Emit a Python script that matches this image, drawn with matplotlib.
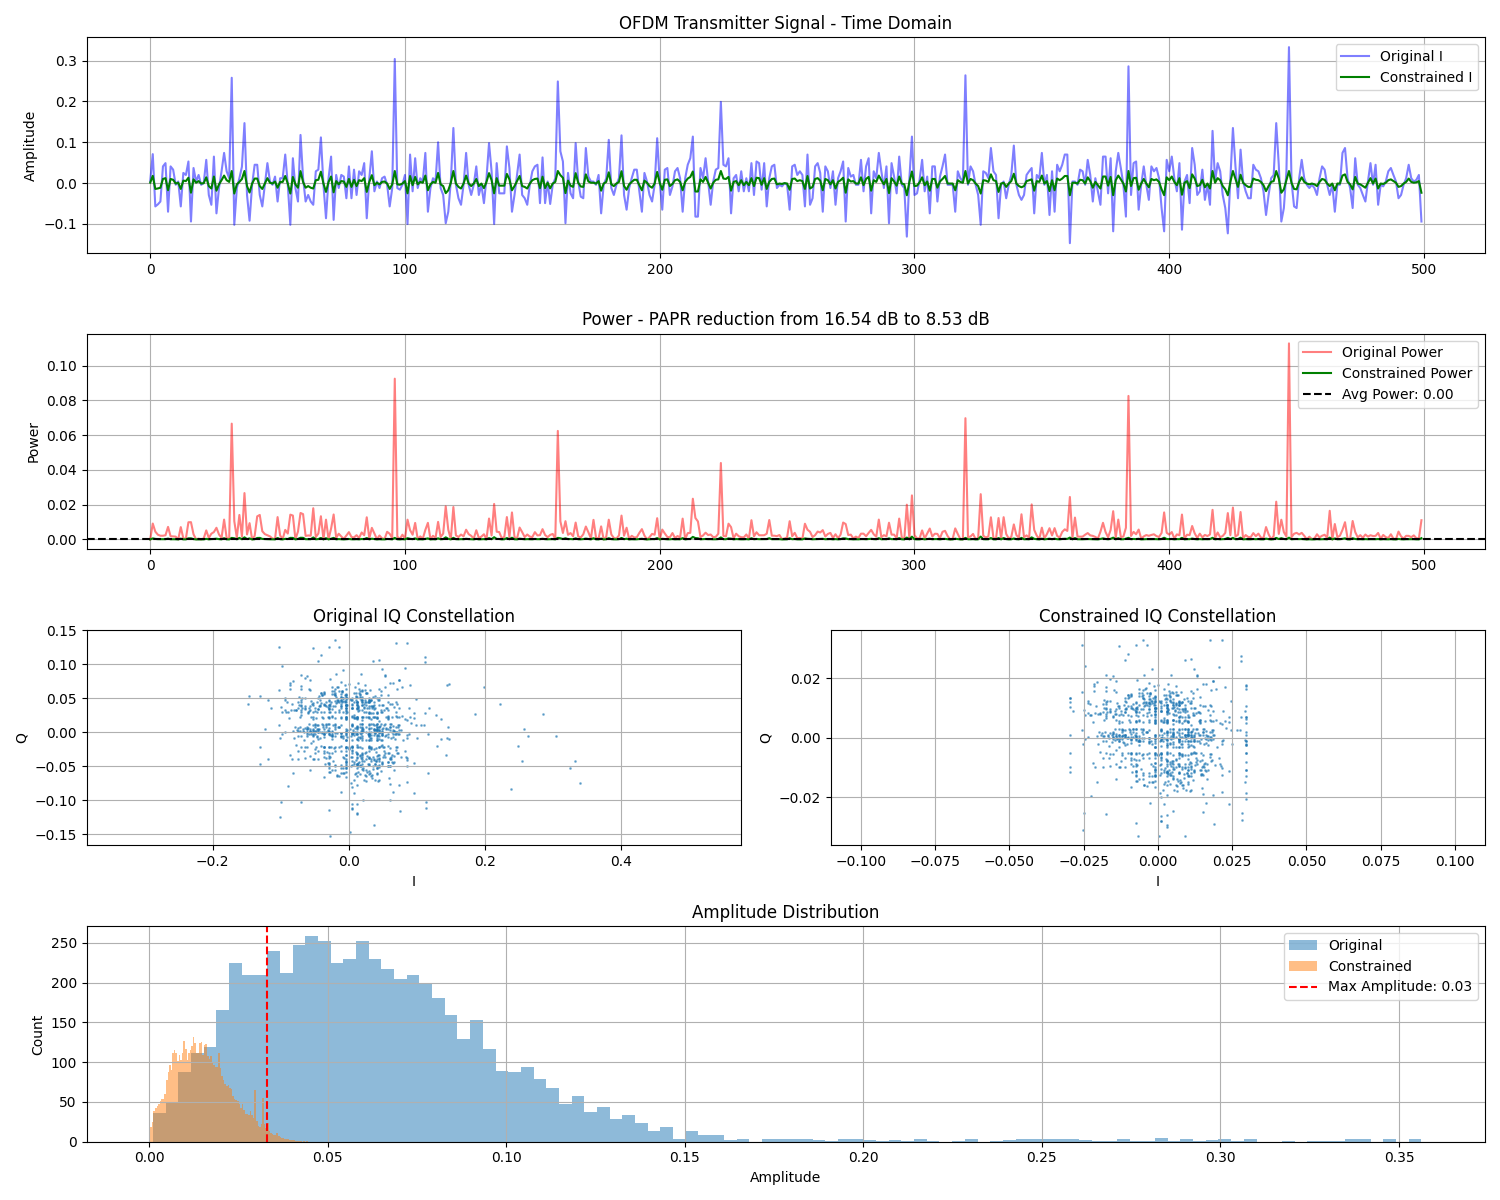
import numpy as np
import matplotlib.pyplot as plt

# IQ samples
# original samples in units of 1e-3, constrained samples in units of 1e-4
orig_i_milli = [
    5, 71, -57, -52, -45, 41, 49, -70, 41, 33, -4, 4, -57, 25, 20, 53, -94, 37, 4, 20,
    -4, 0, 57, -29, -53, 65, -74, -12, 29, 74, 29, 12, 258, -102, -12, 12, 40, 147, -29, -92,
    -4, 45, 45, -29, -57, -4, 49, 4, -4, 16, -45, 12, 12, 70, -4, -102, 61, -12, -45, 118,
    12, -45, -29, -45, -53, 29, 33, 112, -4, -86, 12, 65, -90, 20, -12, 20, 16, -37, 41, -37,
    33, -29, 29, 20, 49, -86, 12, 78, -20, 4, -12, 12, 16, -4, -57, -12, 304, -12, -16, -4,
    20, -100, 70, -20, 61, -12, 12, 4, 74, -70, -12, 12, 4, 100, -12, -29, -98, -70, 4, 135,
    -4, -37, -53, -4, 74, -4, -29, -4, 41, -29, -4, -49, 12, 98, 29, -100, 49, -25, -25, -25,
    90, 37, -70, -29, 20, 70, -29, -37, -53, -4, 29, 41, 45, -49, 63, -49, 4, -51, -4, 12,
    249, 78, 53, -98, 25, -25, -37, 98, 4, -33, -37, 86, 16, 4, 4, -4, 20, -74, -4, 12,
    106, -12, -29, -4, 12, 117, -29, -65, -12, 12, 33, 33, -20, -70, 25, 4, -29, -45, -4, 110,
    4, -65, 33, 37, -29, -8, 29, 37, 12, -70, 12, 45, 61, 114, -82, -82, 37, 12, 61, 4,
    -53, 4, 33, 37, 199, 45, 41, 61, -74, 12, 20, -20, 29, -20, 12, -20, 49, -29, 53, 49,
    -16, 49, -57, 12, 41, 45, -12, -4, -8, 0, -4, -65, 41, 45, 20, 29, 20, -57, 70, -53,
    -37, 41, 49, 25, -70, 41, 29, -12, 29, -53, 12, 29, 53, -94, 37, 16, 20, -4, -4, 57,
    -20, 41, 61, -74, 29, 12, 74, 29, -12, 41, -98, 49, 16, -25, 65, -4, -12, -131, 12, 114,
    -29, -25, 8, 57, -20, 16, -74, 41, 41, -45, 16, 41, 70, -4, -4, -4, -70, 29, 12, 4,
    264, -4, 41, 29, -4, -29, -102, 29, 25, 12, 86, 29, 20, -86, -4, 4, -37, -4, 20, 92,
    -4, -29, -41, -29, 20, 29, 37, -74, 20, 12, 74, -4, 20, -78, 29, -70, 45, 29, 45, 70,
    70, -147, 4, 4, -4, 33, 29, -4, 57, 20, -45, 12, -20, -53, 65, 65, -25, 61, -118, 29,
    74, 37, -4, -82, 286, -29, 49, 53, -65, -4, 41, -4, -41, 41, 29, 37, 12, -61, -118, 57,
    29, 65, 12, -20, 49, -114, 4, 20, -49, 86, 45, -29, -20, 33, -41, -4, -53, 128, 4, 49,
    29, -29, -61, -123, 12, 135, 41, -37, 82, 4, -20, -37, -37, 45, 33, 29, 12, -20, -78, -29,
    12, 20, 147, 45, -94, -61, 29, 333, 4, -57, -61, 12, 57, 12, -4, -12, -4, -12, -29, 12,
    41, 33, -4, -29, -4, -70, -4, -4, 74, 86, 12, -12, -61, 61, -4, -12, -29, -45, 4, 49,
    -4, 45, -53, -4, -8, 4, 29, 37, 20, 4, -37, -29, -4, 12, 45, 12, 4, 8, 20, -94,
    22, -48, 35, 60, -12, -70, 41, 8, -33, 52, -5, 27, 222, -64, 18, 45, -28, 3, 76, -40,
    15, -22, 58, -85, 30, 11, -47, 66, 2, -19, 40, -58, 24, 90, -9, -36, 13, 49, -73, 28,
    -3, 62, -41, 17, 130, -26, 38, -60, 9, 54, -15, -88, 33, 7, 71, -44, 20, -11, 47, -30,
    85, -5, -52, 26, 14, -67, 39, 58, -20, 3, -37, 96, 12, -28, 44, -79, 185, 21, -14, 63,
    -46, 31, 6, -23, 50, -8, 74, -55, 18, 37, -101, 25, 42, -17, 68, 1, -35, 29, -62, 11,
    57, -27, 19, -43, 34, 88, -12, 46, -70, 5, 23, -38, 61, 145, -19, 40, -56, 13, 30, -4,
    79, -49, 16, 36, -25, 52, -83, 9, 27, -14, 65, -31, 43, -66, 20, 2, 117, -22, 48, -40,
    255, -58, 24, -7, 37, -91, 55, 14, -29, 71, -3, 33, -47, 19, 86, -36, 8, -61, 42, 26,
    -18, 59, -72, 12, 34, -25, 143, -10, 45, -53, 28, 6, -39, 67, -15, 21, -80, 50, 3, -33,
    39, -20, 73, -45, 17, 96, -64, 11, 30, -8, 54, -27, 22, -130, 41, 15, -50, 62, -2, 35,
    -21, 48, -69, 26, 325, -37, 13, 57, -16, 82, -44, 7, 31, -58, 20, 44, -9, 146, -30, 10,
    64, -48, 25, -12, 39, -76, 52, 18, -25, 70, -34, 4, 43, -60, 29, 112, -18, 36, -42, 9,
    58, -23, 16, -87, 47, 21, -5, 63, -51, 32, 11, -38, 75, -14, 27, -66, 40, 2, 145, -29,
    19, -45, 53, 8, -24, 67, -57, 30, 339, -10, 42, -72, 15, 36, -33, 60, -4, 24, -49, 13,
    71, -18, 37, -62, 10, 48, -26, 88, -39, 22, 5, -55, 43, 17, -30, 96, -8, 34, -67, 20,
    56, -41, 28, -15, 73, -52, 9, 39, -20, 62, -35, 14, 45, -78, 26, 3, -46, 57, -11, 32,
    -60, 40, 18, -25, 84, -3, 50, -43, 12, 29, -70, 112, 238, -14, 35, -57, 21, 47, -28, 6,
    66, -36, 13, 41, -84, 24, -9, 59, -47, 30, 16, -21, 77, -54, 38, 1, -32, 52, -65, 19,
    43, -12, 27, -41, 71, -25, 8, 36, -73, 55, 14, -30, 48, -59, 20, 86, -16, 33, -45, 11,
    61, -38, 24, -7, 47, -90, 18, 39, -23, 68, -50, 5, 31, -64, 26, 44, -18, 57, -36, 12,
    -148, 29, -55, 70, 16, -27, 42, -10, 58, -44, 23, 35, -69, 9, 51, -20, 73, -33, 17, -101,
    38, -6, 62, -48, 21, 45, -80, 14, 30, -39, 66, -17, 26, -58, 49, 3, -25, 83, -42, 20,
    57, -31, 10, -66, 36, 96, -14, 44, -52, 22, 7, -37, 64, -20, 31, -75, 46, 13, -28, 55,
    -43, 18, 72, -9, 34, -61, 25, 50, -22, 40, -3, -130, 28, 61, -47, 15, 86, -34, 19, -56,
    39, 8, -25, 67, -40, 24, 53, -15, 33, -71, 12, 45, -28, 58, -10, 71, -50, 21, 36, -19,
]

orig_q_milli = [
    -3, 64, -35, 4, -10, 21, 2, 48, 12, -25, 40, -1, 62, 1, -8, 84, 33, -40, 9, -6,
    -4, -24, 44, 0, 22, -2, 35, -52, -5, 77, -12, 7, 4, 10, -28, -118, 3, 71, -45, 30,
    2, 3, 106, -115, 38, 55, -4, 42, -22, 7, 104, -46, 9, 24, -58, 62, -100, -1, 50, 36,
    -120, 1, -38, 10, 123, 21, 48, 28, -12, 63, -3, -45, -79, -23, 56, -36, -7, 29, -50, 5,
    -8, 40, -2, 60, 4, 73, 20, 24, -55, 12, 46, -21, -9, -66, 2, 23, -5, 38, 8, 52,
    3, 37, -22, -48, -76, -1, 40, -20, 3, 68, -6, 44, -28, -9, 35, -50, 97, 26, -11, 20,
    48, -3, 2, -42, 10, 55, -35, 21, -60, 1, 40, -24, 6, 49, -38, -102, -45, 60, 0, -30,
    69, 4, -103, 22, -12, 44, -58, -2, -5, -40, -23, 50, 17, 8, -44, 12, 36, 0, 56, -10,
    -20, 66, -30, 30, 45, -55, -21, 10, -42, 1, 40, -4, -62, 24, -106, 32, 7, 45, -2, -36,
    10, 52, 2, 23, -46, -3, 36, 50, -5, 44, 6, 12, 58, 32, -40, -1, -22, 34, -52, 10,
    -3, -38, 48, 4, 21, -60, -2, -24, -32, 84, -10, 40, 8, -102, 75, -60, 1, -46, 12, 50,
    3, 36, 20, 44, 66, -1, 7, 73, -40, 22, -54, 38, -21, -28, 52, -5, 93, 30, -36, -4,
    46, -3, 5, -105, 22, -10, 42, -50, -8, -23, -34, 79, 12, -42, 18, -2, 0, 76, -26, 40,
    -2, 28, -46, 58, -21, 4, 48, -60, -6, -13, 23, 44, 83, 1, 34, -50, 12, 40, -28, -7,
    54, -12, 3, -5, 46, -38, 77, 22, -48, 8, -2, -19, 50, -10, -88, 36, -1, 53, 21, -111,
    40, 2, 23, -44, 12, 56, -28, -4, -40, 34, -21, -52, 7, 44, 0, 20, 38, -48, 4, 10,
    -5, 36, 3, 48, -12, -2, 125, -36, 22, 40, -73, 6, 1, 70, 19, -113, 42, -23, 32, 13,
    -50, -3, 113, -21, 44, 10, -137, 2, -42, 8, 36, 23, 52, -19, -38, 40, -5, 12, -48, 30,
    1, 53, -30, -112, 40, -22, 28, -52, 20, 44, 4, 36, 10, -40, 73, -7, 24, 42, 48, -2,
    -77, -4, 40, 2, 27, 34, -44, 12, 38, -21, -8, 50, -20, 30, -46, 23, 36, 5, -40, 24,
    44, 3, 21, -50, -1, 36, -22, 48, 10, 18, -38, 6, 54, -12, 30, -44, -4, 25, -26, 40,
    -20, 34, -2, 4, -48, -10, 5, -36, 95, 22, 46, -7, 1, -40, 28, 50, -30, 21, 32, -46,
    -3, 40, -10, -34, 50, -22, -28, -43, 36, 2, 8, -52, 23, 44, -1, 38, -12, -20, 46, -32,
    21, -40, 28, 125, 4, 63, 36, -46, -2, -50, -19, -7, 83, -23, -34, 48, 12, -28, 40, 0,
    -44, 3, 30, -21, 50, -36, -4, 40, 6, 10, 56, -30, 22, 44, 1, 34, -48, 26, 12, 47,
    30, 2, 52, -40, 21, -5, -62, 44, 12, -28, 70, -35, 42, -22, -50, 8, 38, -74, 3, -1,
    -44, 61, -2, 33, 1, 48, 10, -56, 4, 85, -23, 36, -63, 22, 50, -30, -7, -12, 40, -47,
    3, -36, 58, -1, -20, 44, -70, 28, 6, 35, 60, 21, -42, -4, -31, 53, 23, -88, 30, 12,
    -38, 46, 20, -65, 37, 2, 22, -49, 64, -5, -27, -89, 41, 78, -21, 7, 27, -55, 33, 0,
    44, -60, 3, 11, -37, 92, 22, -2, 48, -41, -8, 30, -52, 66, -10, -22, -46, 38, 4, -29,
    55, -4, -34, 40, -68, -3, 47, 1, 29, -80, 36, 10, 7, 70, 52, -43, 23, 31, -57, 64,
    -12, 2, -48, 105, -5, -33, 42, 21, 58, 8, 9, 37, -71, 0, -40, 49, -60, -23, 33, 1,
    -43, -3, 62, -38, 11, 45, 4, 73, -52, 22, 30, -64, -6, 40, 131, -21, 57, 1, -35, 8,
    48, -30, 2, -77, 36, -4, -33, 60, 7, 43, 23, -1, 55, -44, -22, -99, 32, 6, -50, 39,
    3, 136, 10, -39, 51, 21, 34, -2, -61, 46, 6, 29, -42, -46, -5, 63, -31, 12, 40, -54,
    -1, -11, 35, 58, -52, -22, -45, 4, 67, -28, 38, -70, -8, 31, 23, 50, -36, 8, 2, -60,
    42, 21, -29, 74, -47, 3, 33, -2, 56, 131, -38, -21, 47, 6, 28, 110, -64, 37, -9, 0,
    -50, 39, 12, -34, 61, 2, 44, 22, -40, -4, 53, 7, -116, 125, 35, -28, 10, -147, -9, 48,
    -31, 1, 66, -44, -5, 37, -56, 29, -75, 45, -11, 23, 58, -36, 8, -49, 31, 70, -2, -22,
    42, -63, 3, -6, -41, 54, -21, 36, 12, -70, 47, 0, -33, 60, 22, 28, -52, 39, 4, 5,
    35, 57, -2, 44, -30, 11, 66, -47, 5, -9, 40, -58, -22, 33, -72, 48, -7, 21, 52, 1,
    29, -43, 85, -3, -36, 50, -21, 38, -64, 4, 45, 103, -83, 8, -49, 32, 23, -57, 41, 0,
    -35, 59, -12, 2, -40, 47, -5, -68, 30, -22, 55, 7, -37, 42, -1, 71, -29, -21, 36, -46,
    -4, 10, -58, 43, 1, 34, -90, 28, 51, 22, 38, -45, -20, 64, -32, -8, 48, -23, 3, 57,
    -38, 21, 44, -60, 12, 30, 2, 53, -42, -3, 36, -22, 62, 6, 40, -51, -1, 33, -66, 23,
    41, -12, 46, -2, -35, -152, 28, 59, -44, 4, 37, 22, 50, -62, 11, 30, 7, 45, -33, -124,
    -1, 54, -40, -21, 5, 63, -8, -49, 35, 23, 2, 44, -56, 12, 30, -37, 66, 20, 0, 47,
    -31, 3, 52, -11, 38, -45, 29, -70, -2, 41, 21, 57, -34, -22, 46, 6, 9, 35, -58, -4,
    48, -38, -3, 30, -63, 1, -12, 40, 56, -29, -7, -21, 44, -50, 4, 33, -41, 11, 62, -16,
    36, -46, 22, 2, 54, -30, -5, -65, 39, 8, 0, 47, -37, -20, 60, -22, 31, -52, 12, 43,
]

cons_i_e4 = [
    12, 178, -142, -130, -112, 102, 122, -175, 102, 82, -10, 10, -142, 62, 50, 132, -235, 92, 10, 50,
    -10, 0, 142, -72, -132, 162, -185, -30, 72, 185, 72, 30, 297, -255, -30, 30, 100, 297, -72, -230,
    -10, 112, 112, -72, -142, -10, 122, 10, -10, 40, -112, 30, 30, 175, -10, -255, 152, -30, -112, 295,
    30, -112, -72, -112, -132, 72, 82, 280, -10, -215, 30, 162, -225, 50, -30, 50, 40, -92, 102, -92,
    82, -72, 72, 50, 122, -215, 30, 195, -50, 10, -30, 30, 40, -10, -142, -30, 297, -30, -40, -10,
    50, -250, 175, -50, 152, -30, 30, 10, 185, -175, -30, 30, 10, 250, -30, -72, -245, -175, 10, 297,
    -10, -92, -132, -10, 185, -10, -72, -10, 102, -72, -10, -122, 30, 245, 72, -250, 122, -62, -62, -62,
    225, 92, -175, -72, 50, 175, -72, -92, -132, -10, 72, 102, 112, -122, 158, -122, 10, -128, -10, 30,
    297, 195, 132, -245, 62, -62, -92, 245, 10, -82, -92, 215, 40, 10, 10, -10, 50, -185, -10, 30,
    265, -30, -72, -10, 30, 292, -72, -162, -30, 30, 82, 82, -50, -175, 62, 10, -72, -112, -10, 275,
    10, -162, 82, 92, -72, -20, 72, 92, 30, -175, 30, 112, 152, 285, -205, -205, 92, 30, 152, 10,
    -132, 10, 82, 92, 297, 112, 102, 152, -185, 30, 50, -50, 72, -50, 30, -50, 122, -72, 132, 122,
    -40, 122, -142, 30, 102, 112, -30, -10, -20, 0, -10, -162, 102, 112, 50, 72, 50, -142, 175, -132,
    -92, 102, 122, 62, -175, 102, 72, -30, 72, -132, 30, 72, 132, -235, 92, 40, 50, -10, -10, 142,
    -50, 102, 152, -185, 72, 30, 185, 72, -30, 102, -245, 122, 40, -62, 162, -10, -30, -297, 30, 285,
    -72, -62, 20, 142, -50, 40, -185, 102, 102, -112, 40, 102, 175, -10, -10, -10, -175, 72, 30, 10,
    297, -10, 102, 72, -10, -72, -255, 72, 62, 30, 215, 72, 50, -215, -10, 10, -92, -10, 50, 230,
    -10, -72, -102, -72, 50, 72, 92, -185, 50, 30, 185, -10, 50, -195, 72, -175, 112, 72, 112, 175,
    175, -297, 10, 10, -10, 82, 72, -10, 142, 50, -112, 30, -50, -132, 162, 162, -62, 152, -295, 72,
    185, 92, -10, -205, 297, -72, 122, 132, -162, -10, 102, -10, -102, 102, 72, 92, 30, -152, -295, 142,
    72, 162, 30, -50, 122, -285, 10, 50, -122, 215, 112, -72, -50, 82, -102, -10, -132, 297, 10, 122,
    72, -72, -152, -297, 30, 297, 102, -92, 205, 10, -50, -92, -92, 112, 82, 72, 30, -50, -195, -72,
    30, 50, 297, 112, -235, -152, 72, 297, 10, -142, -152, 30, 142, 30, -10, -30, -10, -30, -72, 30,
    102, 82, -10, -72, -10, -175, -10, -10, 185, 215, 30, -30, -152, 152, -10, -30, -72, -112, 10, 122,
    -10, 112, -132, -10, -20, 10, 72, 92, 50, 10, -92, -72, -10, 30, 112, 30, 10, 20, 50, -235,
    55, -120, 88, 150, -30, -175, 102, 20, -82, 130, -12, 68, 297, -160, 45, 112, -70, 8, 190, -100,
    38, -55, 145, -212, 75, 28, -118, 165, 5, -48, 100, -145, 60, 225, -22, -90, 32, 122, -182, 70,
    -8, 155, -102, 42, 297, -65, 95, -150, 22, 135, -38, -220, 82, 18, 178, -110, 50, -28, 118, -75,
    212, -12, -130, 65, 35, -168, 98, 145, -50, 8, -92, 240, 30, -70, 110, -198, 297, 52, -35, 158,
    -115, 78, 15, -58, 125, -20, 185, -138, 45, 92, -252, 62, 105, -42, 170, 2, -88, 72, -155, 28,
    142, -68, 48, -108, 85, 220, -30, 115, -175, 12, 58, -95, 152, 297, -48, 100, -140, 32, 75, -10,
    198, -122, 40, 90, -62, 130, -208, 22, 68, -35, 162, -78, 108, -165, 50, 5, 292, -55, 120, -100,
    297, -145, 60, -18, 92, -228, 138, 35, -72, 178, -8, 82, -118, 48, 215, -90, 20, -152, 105, 65,
    -45, 148, -180, 30, 85, -62, 297, -25, 112, -132, 70, 15, -98, 168, -38, 52, -200, 125, 8, -82,
    98, -50, 182, -112, 42, 240, -160, 28, 75, -20, 135, -68, 55, -297, 102, 38, -125, 155, -5, 88,
    -52, 120, -172, 65, 297, -92, 32, 142, -40, 205, -110, 18, 78, -145, 50, 110, -22, 297, -75, 25,
    160, -120, 62, -30, 98, -190, 130, 45, -62, 175, -85, 10, 108, -150, 72, 280, -45, 90, -105, 22,
    145, -58, 40, -218, 118, 52, -12, 158, -128, 80, 28, -95, 188, -35, 68, -165, 100, 5, 297, -72,
    48, -112, 132, 20, -60, 168, -142, 75, 297, -25, 105, -180, 38, 90, -82, 150, -10, 60, -122, 32,
    178, -45, 92, -155, 25, 120, -65, 220, -98, 55, 12, -138, 108, 42, -75, 240, -20, 85, -168, 50,
    140, -102, 70, -38, 182, -130, 22, 98, -50, 155, -88, 35, 112, -195, 65, 8, -115, 142, -28, 80,
    -150, 100, 45, -62, 210, -8, 125, -108, 30, 72, -175, 280, 297, -35, 88, -142, 52, 118, -70, 15,
    165, -90, 32, 102, -210, 60, -22, 148, -118, 75, 40, -52, 192, -135, 95, 2, -80, 130, -162, 48,
    108, -30, 68, -102, 178, -62, 20, 90, -182, 138, 35, -75, 120, -148, 50, 215, -40, 82, -112, 28,
    152, -95, 60, -18, 118, -225, 45, 98, -58, 170, -125, 12, 78, -160, 65, 110, -45, 142, -90, 30,
    -297, 72, -138, 175, 40, -68, 105, -25, 145, -110, 58, 88, -172, 22, 128, -50, 182, -82, 42, -252,
    95, -15, 155, -120, 52, 112, -200, 35, 75, -98, 165, -42, 65, -145, 122, 8, -62, 208, -105, 50,
    142, -78, 25, -165, 90, 240, -35, 110, -130, 55, 18, -92, 160, -50, 78, -188, 115, 32, -70, 138,
    -108, 45, 180, -22, 85, -152, 62, 125, -55, 100, -8, -297, 70, 152, -118, 38, 215, -85, 48, -140,
    98, 20, -62, 168, -100, 60, 132, -38, 82, -178, 30, 112, -70, 145, -25, 178, -125, 52, 90, -48,
]

cons_q_e4 = [
    -8, 160, -88, 10, -25, 52, 5, 120, 30, -62, 100, -2, 155, 2, -20, 210, 82, -100, 22, -15,
    -10, -60, 110, 0, 55, -5, 88, -130, -12, 192, -30, 18, 10, 25, -70, -295, 8, 178, -112, 75,
    5, 8, 265, -288, 95, 138, -10, 105, -55, 18, 260, -115, 22, 60, -145, 155, -250, -2, 125, 90,
    -300, 2, -95, 25, 308, 52, 120, 70, -30, 158, -8, -112, -198, -58, 140, -90, -18, 72, -125, 12,
    -20, 100, -5, 150, 10, 182, 50, 60, -138, 30, 115, -52, -22, -165, 5, 58, -12, 95, 20, 130,
    8, 92, -55, -120, -190, -2, 100, -50, 8, 170, -15, 110, -70, -22, 88, -125, 242, 65, -28, 50,
    120, -8, 5, -105, 25, 138, -88, 52, -150, 2, 100, -60, 15, 122, -95, -255, -112, 150, 0, -75,
    172, 10, -258, 55, -30, 110, -145, -5, -12, -100, -58, 125, 42, 20, -110, 30, 90, 0, 140, -25,
    -50, 165, -75, 75, 112, -138, -52, 25, -105, 2, 100, -10, -155, 60, -265, 80, 18, 112, -5, -90,
    25, 130, 5, 58, -115, -8, 90, 125, -12, 110, 15, 30, 145, 80, -100, -2, -55, 85, -130, 25,
    -8, -95, 120, 10, 52, -150, -5, -60, -80, 210, -25, 100, 20, -255, 188, -150, 2, -115, 30, 125,
    8, 90, 50, 110, 165, -2, 18, 182, -100, 55, -135, 95, -52, -70, 130, -12, 232, 75, -90, -10,
    115, -8, 12, -262, 55, -25, 105, -125, -20, -58, -85, 198, 30, -105, 45, -5, 0, 190, -65, 100,
    -5, 70, -115, 145, -52, 10, 120, -150, -15, -32, 58, 110, 208, 2, 85, -125, 30, 100, -70, -18,
    135, -30, 8, -12, 115, -95, 192, 55, -120, 20, -5, -48, 125, -25, -220, 90, -2, 132, 52, -278,
    100, 5, 58, -110, 30, 140, -70, -10, -100, 85, -52, -130, 18, 110, 0, 50, 95, -120, 10, 25,
    -12, 90, 8, 120, -30, -5, 312, -90, 55, 100, -182, 15, 2, 175, 48, -282, 105, -58, 80, 32,
    -125, -8, 282, -52, 110, 25, -330, 5, -105, 20, 90, 58, 130, -48, -95, 100, -12, 30, -120, 75,
    2, 132, -75, -280, 100, -55, 70, -130, 50, 110, 10, 90, 25, -100, 182, -18, 60, 105, 120, -5,
    -192, -10, 100, 5, 68, 85, -110, 30, 95, -52, -20, 125, -50, 75, -115, 58, 90, 12, -100, 60,
    110, 8, 52, -125, -2, 90, -55, 120, 25, 45, -95, 15, 135, -30, 75, -110, -10, 62, -65, 100,
    -50, 85, -5, 10, -120, -25, 12, -90, 238, 55, 115, -18, 2, -100, 70, 125, -75, 52, 80, -115,
    -8, 100, -25, -85, 125, -55, -70, -108, 90, 5, 20, -130, 58, 110, -2, 95, -30, -50, 115, -80,
    52, -100, 70, 312, 10, 158, 90, -115, -5, -125, -48, -18, 208, -58, -85, 120, 30, -70, 100, 0,
    -110, 8, 75, -52, 125, -90, -10, 100, 15, 25, 140, -75, 55, 110, 2, 85, -120, 65, 30, 118,
    75, 5, 130, -100, 52, -12, -155, 110, 30, -70, 175, -88, 105, -55, -125, 20, 95, -185, 8, -2,
    -110, 152, -5, 82, 2, 120, 25, -140, 10, 212, -58, 90, -158, 55, 125, -75, -18, -30, 100, -118,
    8, -90, 145, -2, -50, 110, -175, 70, 15, 88, 150, 52, -105, -10, -78, 132, 58, -220, 75, 30,
    -95, 115, 50, -162, 92, 5, 55, -122, 160, -12, -68, -222, 102, 195, -52, 18, 68, -138, 82, 0,
    110, -150, 8, 28, -92, 230, 55, -5, 120, -102, -20, 75, -130, 165, -25, -55, -115, 95, 10, -72,
    138, -10, -85, 100, -170, -8, 118, 2, 72, -200, 90, 25, 18, 175, 130, -108, 58, 78, -142, 160,
    -30, 5, -120, 262, -12, -82, 105, 52, 145, 20, 22, 92, -178, 0, -100, 122, -150, -58, 82, 2,
    -108, -8, 155, -95, 28, 112, 10, 182, -130, 55, 75, -160, -15, 100, 328, -52, 142, 2, -88, 20,
    120, -75, 5, -192, 90, -10, -82, 150, 18, 108, 58, -2, 138, -110, -55, -248, 80, 15, -125, 98,
    8, 330, 25, -98, 128, 52, 85, -5, -152, 115, 15, 72, -105, -115, -12, 158, -78, 30, 100, -135,
    -2, -28, 88, 145, -130, -55, -112, 10, 168, -70, 95, -175, -20, 78, 58, 125, -90, 20, 5, -150,
    105, 52, -72, 185, -118, 8, 82, -5, 140, 328, -95, -52, 118, 15, 70, 275, -160, 92, -22, 0,
    -125, 98, 30, -85, 152, 5, 110, 55, -100, -10, 132, 18, -290, 312, 88, -70, 25, -330, -22, 120,
    -78, 2, 165, -110, -12, 92, -140, 72, -188, 112, -28, 58, 145, -90, 20, -122, 78, 175, -5, -55,
    105, -158, 8, -15, -102, 135, -52, 90, 30, -175, 118, 0, -82, 150, 55, 70, -130, 98, 10, 12,
    88, 142, -5, 110, -75, 28, 165, -118, 12, -22, 100, -145, -55, 82, -180, 120, -18, 52, 130, 2,
    72, -108, 212, -8, -90, 125, -52, 95, -160, 10, 112, 258, -208, 20, -122, 80, 58, -142, 102, 0,
    -88, 148, -30, 5, -100, 118, -12, -170, 75, -55, 138, 18, -92, 105, -2, 178, -72, -52, 90, -115,
    -10, 25, -145, 108, 2, 85, -225, 70, 128, 55, 95, -112, -50, 160, -80, -20, 120, -58, 8, 142,
    -95, 52, 110, -150, 30, 75, 5, 132, -105, -8, 90, -55, 155, 15, 100, -128, -2, 82, -165, 58,
    102, -30, 115, -5, -88, -330, 70, 148, -110, 10, 92, 55, 125, -155, 28, 75, 18, 112, -82, -310,
    -2, 135, -100, -52, 12, 158, -20, -122, 88, 58, 5, 110, -140, 30, 75, -92, 165, 50, 0, 118,
    -78, 8, 130, -28, 95, -112, 72, -175, -5, 102, 52, 142, -85, -55, 115, 15, 22, 88, -145, -10,
    120, -95, -8, 75, -158, 2, -30, 100, 140, -72, -18, -52, 110, -125, 10, 82, -102, 28, 155, -40,
    90, -115, 55, 5, 135, -75, -12, -162, 98, 20, 0, 118, -92, -50, 150, -55, 78, -130, 30, 108,
]

# numbers printed in the chart text
papr_before_db = 16.54
papr_after_db = 8.53
max_amplitude = 0.0329

# amplitude histograms (100 bins each)
orig_amp_lo, orig_amp_hi = 0.0011, 0.3563
orig_amp_counts = [
    36, 50, 88, 112, 119, 165, 225, 210, 209, 239, 212, 247, 258, 252, 224, 229, 252, 230, 217, 204,
    209, 199, 180, 159, 129, 153, 117, 89, 87, 94, 79, 68, 48, 58, 37, 43, 29, 34, 24, 14,
    18, 4, 13, 9, 9, 2, 4, 0, 3, 4, 4, 4, 2, 1, 4, 3, 2, 1, 2, 1,
    3, 1, 0, 1, 4, 0, 1, 2, 3, 3, 4, 4, 4, 2, 1, 1, 3, 1, 1, 5,
    1, 3, 1, 2, 3, 1, 4, 0, 0, 1, 0, 1, 1, 1, 3, 3, 0, 4, 0, 4,
]
cons_amp_lo, cons_amp_hi = 0.0003, 0.0445
cons_amp_counts = [
    18, 25, 38, 42, 45, 48, 51, 54, 54, 60, 78, 88, 97, 90, 111, 115, 112, 102, 109, 103,
    112, 126, 117, 103, 111, 115, 120, 131, 124, 112, 112, 124, 125, 109, 122, 123, 108, 104, 108, 100,
    97, 94, 94, 112, 92, 82, 78, 72, 70, 71, 67, 66, 58, 54, 53, 51, 47, 42, 48, 40,
    35, 35, 34, 38, 34, 30, 65, 26, 20, 18, 22, 55, 22, 17, 24, 14, 11, 10, 9, 9,
    11, 7, 6, 5, 5, 4, 4, 3, 2, 2, 2, 2, 1, 1, 1, 1, 0, 1, 0, 1,
]

n_time = 500

orig_i = np.array(orig_i_milli) / 1000.0
orig_q = np.array(orig_q_milli) / 1000.0
cons_i = np.array(cons_i_e4) / 10000.0
cons_q = np.array(cons_q_e4) / 10000.0

n_orig = min(len(orig_i), len(orig_q))
n_cons = min(len(cons_i), len(cons_q))

t = np.arange(n_time)
orig_power = orig_i[:n_time] ** 2 + orig_q[:n_time] ** 2
cons_power = cons_i[:n_time] ** 2 + cons_q[:n_time] ** 2
avg_power = np.mean(cons_power)

fig = plt.figure(figsize=(15, 12))
gs = fig.add_gridspec(4, 2)

# time domain
ax1 = fig.add_subplot(gs[0, :])
ax1.plot(t, orig_i[:n_time], 'b-', alpha=0.5, label='Original I')
ax1.plot(t, cons_i[:n_time], 'g-', label='Constrained I')
ax1.set_title('OFDM Transmitter Signal - Time Domain')
ax1.set_ylabel('Amplitude')
ax1.grid(True)
ax1.legend(loc='upper right')

# power
ax2 = fig.add_subplot(gs[1, :])
ax2.plot(t, orig_power, 'r-', alpha=0.5, label='Original Power')
ax2.plot(t, cons_power, 'g-', label='Constrained Power')
ax2.axhline(y=avg_power, color='k', linestyle='--', label=f'Avg Power: {avg_power:.2f}')
ax2.set_title(f'Power - PAPR reduction from {papr_before_db:.2f} dB to {papr_after_db:.2f} dB')
ax2.set_ylabel('Power')
ax2.grid(True)
ax2.legend(loc='upper right')

# constellations
ax3 = fig.add_subplot(gs[2, 0])
ax3.scatter(orig_i[:n_orig], orig_q[:n_orig], s=1, alpha=0.5)
ax3.set_title('Original IQ Constellation')
ax3.set_xlabel('I')
ax3.set_ylabel('Q')
ax3.grid(True)
ax3.axis('equal')

ax4 = fig.add_subplot(gs[2, 1])
ax4.scatter(cons_i[:n_cons], cons_q[:n_cons], s=1, alpha=0.5)
ax4.set_title('Constrained IQ Constellation')
ax4.set_xlabel('I')
ax4.set_ylabel('Q')
ax4.grid(True)
ax4.axis('equal')

# amplitude distribution
ax5 = fig.add_subplot(gs[3, :])
edges_o = np.linspace(orig_amp_lo, orig_amp_hi, len(orig_amp_counts) + 1)
edges_c = np.linspace(cons_amp_lo, cons_amp_hi, len(cons_amp_counts) + 1)
ax5.hist((edges_o[:-1] + edges_o[1:]) / 2, bins=edges_o, weights=orig_amp_counts,
         alpha=0.5, label='Original')
ax5.hist((edges_c[:-1] + edges_c[1:]) / 2, bins=edges_c, weights=cons_amp_counts,
         alpha=0.5, label='Constrained')
ax5.axvline(x=max_amplitude, color='r', linestyle='--',
            label=f'Max Amplitude: {max_amplitude:.2f}')
ax5.set_title('Amplitude Distribution')
ax5.set_xlabel('Amplitude')
ax5.set_ylabel('Count')
ax5.grid(True)
ax5.legend(loc='upper right')

plt.tight_layout()
plt.savefig('out.png', dpi=100)
